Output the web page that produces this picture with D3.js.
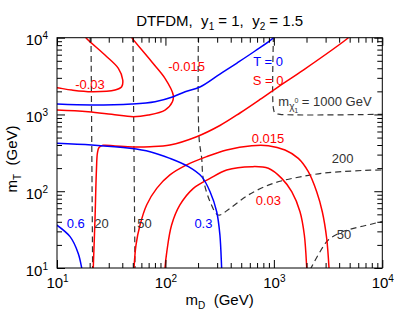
<!DOCTYPE html>
<html lang="en">
<head>
<meta charset="UTF-8">
<title>DTFDM contours</title>
<style>
  body { margin: 0; background: #fff; }
  svg { font-family: "Liberation Sans", Arial, Helvetica, sans-serif; }
  .curve { fill: none; stroke-width: 1.5; }
  .dash { fill: none; stroke: #333; stroke-width: 1.2; stroke-dasharray: 6,4; }
  .lbl { font-size: 13px; }
</style>
<script src="https://cdn.jsdelivr.net/npm/d3@7"></script>
</head>
<body>
<svg id="chart" width="407" height="326"></svg>
<script>
// axis decades (GeV)
var mdTicks = [10, 100, 1000, 10000];
var mtTicks = [10, 100, 1000, 10000];

// T = 0 contours (blue), [mD, mT]
var tZero = [[9.5,1368],[20.9,1327],[48.9,1368],[80.2,1466],[118,1702],[152,1979],[208,2280],[318,3365],[457,4680],[670,6710],[989,10000],[1000,10500]];
var t03 = [[9.5,423],[20.9,400],[47.1,362],[72.1,327],[110,268],[163,209],[216,155],[258,98.6],[297,54.1],[318,26.9],[330,10],[331,9.5]];
var t06 = [[9.5,38],[13.2,25.6],[15.7,15.5],[16.9,10],[17,9.5]];

// S contours (red)
var sZero = [[21.6,9.5],[21.6,10],[22.4,42.2],[23.1,189],[23.6,315],[24.4,371],[26.6,396],[34.3,388],[50.5,377],[72.1,380],[110,400],[194,513],[318,718],[487,1045],[745,1567],[1139,2383],[1868,3793],[4860,10000],[5000,10400]];
var sM03 = [[18.2,10500],[18.5,10000],[27.7,5950],[36.8,3990],[40.4,2810],[39.5,2300],[34.3,2080],[20.9,1980],[13.7,2080],[10,2230],[9.5,2240]];
var sM015 = [[48,10500],[48.9,10000],[74.7,4860],[99.1,2960],[118,1793],[116,1466],[99.1,1143],[69.5,984],[50.5,935],[31.9,1005],[19.4,1086],[10,1143],[9.5,1145]];
var s015 = [[51.2,9.5],[51.3,10],[53.5,19.9],[58.3,36.3],[67.1,66.2],[83.1,109],[110,163],[157,220],[240,282],[367,344],[625,392],[889,392],[1267,344],[1681,268],[2078,180],[2483,98.6],[2797,54.1],[3069,24.4],[3225,10],[3230,9.5]];
var s03 = [[99,9.5],[99.1,10],[103,16.3],[114,36.3],[136,66.2],[181,109],[258,147],[367,189],[625,209],[889,199],[1181,147],[1461,98.6],[1742,54.1],[1910,26.9],[2010,10],[2015,9.5]];

// neutralino mass contours (dashed)
var chi20 = [[20.6,10500],[20.6,10000],[21.3,10],[21.3,9.5]];
var chi50 = [[50.2,10500],[50.2,10000],[52.4,10],[52.4,9.5]];
var chi200 = [[201,10500],[201,10000],[204,508],[216,268],[223,147],[258,73.1],[307,49],[394,59.9],[581,89.3],[889,120],[1267,140],[1807,155],[2761,171],[4224,180],[6926,187],[10000,189],[10500,189]];
var chi50b = [[2150,9.5],[2200,10],[2665,16.3],[3177,23.2],[4246,29.4],[5848,33.7],[7700,36.9],[10000,40.3],[10500,40.6]];
var chi1000 = [[989,10500],[989,10000],[989,1213],[1025,1045],[1139,1005],[10000,1005],[10500,1005]];

// contour labels: text, mD, mT
var redLabels = [["-0.03",14.7,2146],["-0.015",106,3737],["S = 0",638,2421],["0.015",625,419],["0.03",680,67.1]];
var blueLabels = [["T = 0",646,4276],["0.6",12.3,33.2],["0.3",185,33.2]];
var grayLabels = [["20",22.1,33.2],["50",55.0,33.2],["200",3415,233],["50",3798,23.9]];
var chiLabel = [1099, 1288];

var svg = d3.select("#chart");
var W = 407, H = 326;
var margin = {top: 37.7, right: 24.7, bottom: 58, left: 57};

var x = d3.scaleLog().domain([10, 1e4]).range([margin.left, W - margin.right]);
var y = d3.scaleLog().domain([10, 1e4]).range([H - margin.bottom, margin.top]);

var minor = [];
for (var e = 1; e < 4; e++) for (var k = 2; k <= 9; k++) minor.push(k * Math.pow(10, e));

svg.append("clipPath").attr("id", "clip")
  .append("rect")
  .attr("x", margin.left).attr("y", margin.top)
  .attr("width", W - margin.left - margin.right)
  .attr("height", H - margin.top - margin.bottom);

var line = d3.line()
  .x(function(d) { return x(d[0]); })
  .y(function(d) { return y(d[1]); })
  .curve(d3.curveCatmullRom.alpha(0.5));

var plot = svg.append("g").attr("clip-path", "url(#clip)");

[chi20, chi50, chi200, chi50b, chi1000].forEach(function(c) {
  plot.append("path").attr("class", "dash").attr("d", line(c));
});

[[sZero, "#ff0000"], [sM03, "#ff0000"], [sM015, "#ff0000"], [s015, "#ff0000"], [s03, "#ff0000"],
 [tZero, "#0000ff"], [t03, "#0000ff"], [t06, "#0000ff"]].forEach(function(c) {
  plot.append("path").attr("class", "curve").attr("stroke", c[1]).attr("d", line(c[0]));
});

// labels
function addLabels(list, color) {
  svg.selectAll(null).data(list).enter().append("text")
    .attr("class", "lbl")
    .attr("fill", color)
    .style("white-space", "pre")
    .attr("x", function(d) { return x(d[1]); })
    .attr("y", function(d) { return y(d[2]); })
    .text(function(d) { return d[0]; });
}
addLabels(redLabels, "#ff0000");
addLabels(blueLabels, "#0000ff");
addLabels(grayLabels, "#333");

var chiText = svg.append("text").attr("class", "lbl").attr("fill", "#333")
  .style("white-space", "pre")
  .attr("x", x(chiLabel[0])).attr("y", y(chiLabel[1]));
chiText.append("tspan").text("m");
chiText.append("tspan").attr("font-size", 10).attr("dy", 4).text("\u03c7");
chiText.append("tspan").attr("font-size", 7).attr("dy", -7).text("0");
chiText.append("tspan").attr("font-size", 7).attr("dx", -4).attr("dy", 10).text("1");
chiText.append("tspan").attr("dy", -7).text(" = 1000 GeV");

// axes
function sup(g) {
  g.selectAll(".tick text").each(function(d) {
    var t = d3.select(this).text(null);
    t.append("tspan").text("10");
    t.append("tspan").attr("font-size", 10).attr("dy", -6).text(Math.round(Math.log10(d)));
  });
}

var bottom = svg.append("g").attr("transform", "translate(0," + y.range()[0] + ")")
  .call(d3.axisBottom(x).tickValues(mdTicks).tickSize(-8));
bottom.selectAll(".tick text").attr("y", 20).attr("dy", 0).attr("font-size", 15).attr("font-family", null);
bottom.call(sup);

var left = svg.append("g").attr("transform", "translate(" + x.range()[0] + ",0)")
  .call(d3.axisLeft(y).tickValues(mtTicks).tickSize(-8));
left.selectAll(".tick text").attr("x", -9).attr("dy", 7).attr("font-size", 15).attr("font-family", null);
left.call(sup);

svg.append("g").attr("transform", "translate(0," + y.range()[1] + ")")
  .call(d3.axisTop(x).tickValues(mdTicks).tickSize(-8).tickFormat(""));
svg.append("g").attr("transform", "translate(" + x.range()[1] + ",0)")
  .call(d3.axisRight(y).tickValues(mtTicks).tickSize(-8).tickFormat(""));

svg.append("g").attr("transform", "translate(0," + y.range()[0] + ")")
  .call(d3.axisBottom(x).tickValues(minor).tickSize(-5).tickFormat(""));
svg.append("g").attr("transform", "translate(0," + y.range()[1] + ")")
  .call(d3.axisTop(x).tickValues(minor).tickSize(-5).tickFormat(""));
svg.append("g").attr("transform", "translate(" + x.range()[0] + ",0)")
  .call(d3.axisLeft(y).tickValues(minor).tickSize(-5).tickFormat(""));
svg.append("g").attr("transform", "translate(" + x.range()[1] + ",0)")
  .call(d3.axisRight(y).tickValues(minor).tickSize(-5).tickFormat(""));

svg.selectAll(".domain").remove();

svg.append("rect")
  .attr("x", margin.left).attr("y", margin.top)
  .attr("width", W - margin.left - margin.right)
  .attr("height", H - margin.top - margin.bottom)
  .attr("fill", "none").attr("stroke", "#000").attr("stroke-width", 1);

// title
var cx = (x.range()[0] + x.range()[1]) / 2;
var title = svg.append("text").attr("x", cx).attr("y", 26)
  .attr("text-anchor", "middle").attr("font-size", 15).style("white-space", "pre");
title.append("tspan").text("DTFDM,  y");
title.append("tspan").attr("font-size", 10).attr("dy", 4).text("1");
title.append("tspan").attr("dy", -4).text(" = 1,  y");
title.append("tspan").attr("font-size", 10).attr("dy", 4).text("2");
title.append("tspan").attr("dy", -4).text(" = 1.5");

// axis titles
var xt = svg.append("text").attr("x", cx).attr("y", 305)
  .attr("text-anchor", "middle").attr("font-size", 15).style("white-space", "pre");
xt.append("tspan").text("m");
xt.append("tspan").attr("font-size", 10).attr("dy", 4).text("D");
xt.append("tspan").attr("dy", -4).text("  (GeV)");

var yt = svg.append("text").attr("transform", "translate(17,159) rotate(-90)")
  .attr("text-anchor", "middle").attr("font-size", 15).style("white-space", "pre");
yt.append("tspan").text("m");
yt.append("tspan").attr("font-size", 10).attr("dy", 4).text("T");
yt.append("tspan").attr("dy", -4).text("  (GeV)");
</script>
</body>
</html>
